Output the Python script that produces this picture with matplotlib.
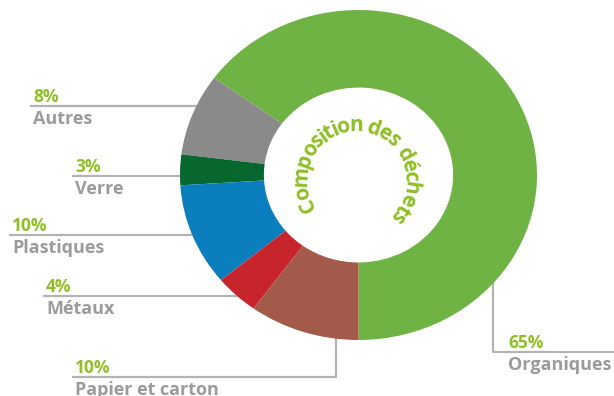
import numpy as np
import matplotlib
matplotlib.use("Agg")
import matplotlib.pyplot as plt
from matplotlib.textpath import TextPath
from matplotlib.font_manager import FontProperties

# Données : composition des déchets (%)
categories = ["Organiques", "Autres", "Verre", "Plastiques", "Métaux", "Papier et carton"]
valeurs = [65, 8, 3, 10, 4, 10]
couleurs = ["#6fb344", "#8a8a8a", "#07672f", "#0b7fbd", "#c7252b", "#a45a4b"]

VERT_TXT = "#8fbf26"
GRIS_TXT = "#9b9b9b"
GRIS_LIGNE = "#b3b3b3"
POLICE = "Open Sans"

W, H = 614, 396
fig = plt.figure(figsize=(W / 100, H / 100), dpi=100)

# Fond en coordonnées pixels pour les étiquettes et traits de rappel
bg = fig.add_axes([0, 0, 1, 1])
bg.set_xlim(0, W)
bg.set_ylim(H, 0)
bg.axis("off")

# Anneau (légèrement étiré horizontalement)
cx, cy, rx, ry = 358.5, 175, 178.5, 165
ax = fig.add_axes([(cx - rx) / W, (H - cy - ry) / H, 2 * rx / W, 2 * ry / H])
ax.pie(valeurs, colors=couleurs, startangle=-90, counterclock=True,
       radius=1, wedgeprops=dict(width=0.47, linewidth=0))
ax.set_aspect("auto")
ax.set_xlim(-1, 1)
ax.set_ylim(-1, 1)
ax.axis("off")

# Étiquettes : (x texte, y trait, x fin du trait, coude vertical éventuel)
etiquettes = {
    "Autres":           (33, 106, 215, None),
    "Verre":            (75, 176, 200, None),
    "Plastiques":       (12, 235, 200, None),
    "Métaux":           (46, 296, 240, None),
    "Papier et carton": (75, 377, 336, 330),
    "Organiques":       (508, 352, 614, 270),
}
for nom, val in zip(categories, valeurs):
    x0, yl, x1, yv = etiquettes[nom]
    if nom == "Organiques":
        xs, ys = [493, 493, x1], [yv, yl, yl]
    elif yv is not None:
        xs, ys = [x0 - 3, x1, x1], [yl, yl, yv]
    else:
        xs, ys = [x0 - 3, x1], [yl, yl]
    bg.plot(xs, ys, color=GRIS_LIGNE, lw=1.6, solid_capstyle="butt", zorder=1)
    bg.text(x0, yl - 4, f"{val}%", color=VERT_TXT, fontsize=12.5,
            fontweight="bold", family=POLICE, ha="left", va="baseline")
    bg.text(x0, yl + 4, nom, color=GRIS_TXT, fontsize=13,
            fontweight="bold", family=POLICE, ha="left", va="top")

# Titre en arc dans le trou central
titre = "Composition des déchets"
fs_titre = 15
fp = FontProperties(family=POLICE, weight="bold", size=fs_titre)
larg = [TextPath((0, 0), c, prop=fp).get_extents().width
        if c != " " else fs_titre * 0.22 for c in titre]
# espacement en pixels (pt -> px à 100 dpi)
avance = [l * 100 / 72 + 0.5 for l in larg]
acx, acy, r = 356, 180, 49
total = sum(avance)
theta_c = np.deg2rad(83)
pos = -total / 2
for c, a in zip(titre, avance):
    t = theta_c - (pos + a / 2) / r
    pos += a
    if c == " ":
        continue
    x = acx + r * np.cos(t)
    y = acy - r * np.sin(t)
    bg.text(x, y, c, color=VERT_TXT, fontsize=fs_titre, fontweight="bold",
            family=POLICE, ha="center", va="baseline",
            rotation=np.rad2deg(t) - 90, rotation_mode="anchor", zorder=5)

fig.savefig("out.png", dpi=100)
